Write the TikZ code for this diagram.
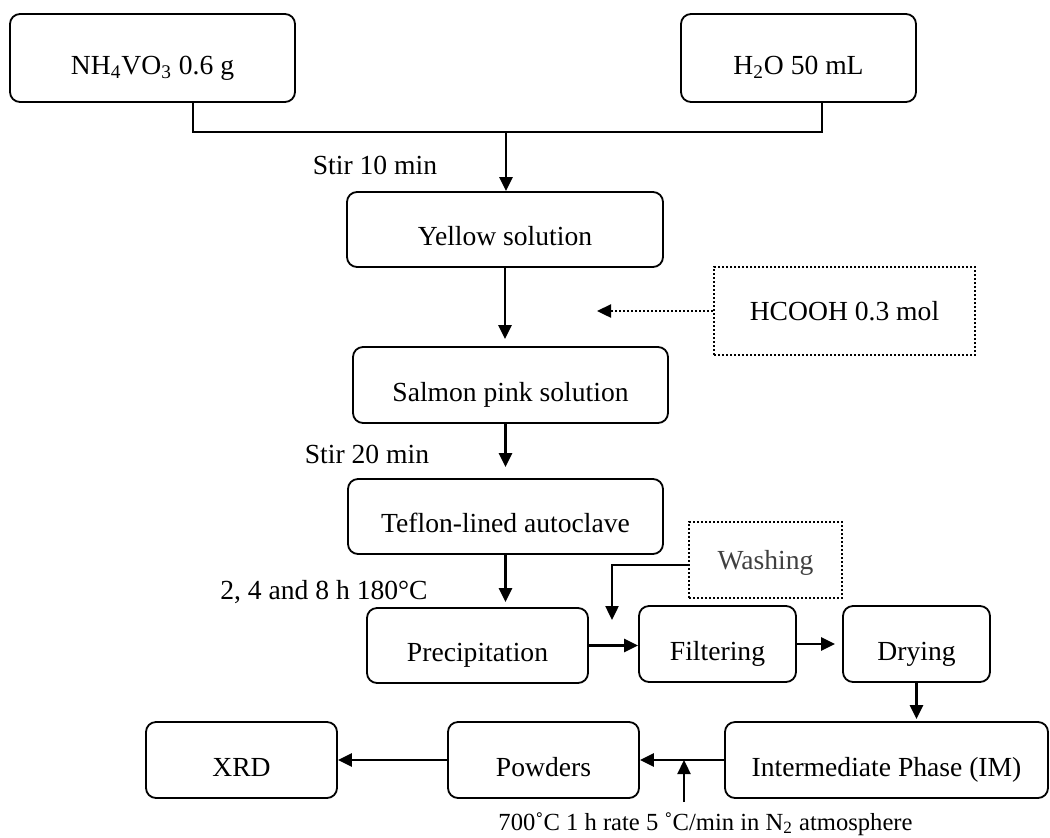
\documentclass[tikz,border=0pt]{standalone}
\usepackage{fontspec}
\setmainfont{Liberation Serif}
\usetikzlibrary{arrows.meta}
\tikzset{
  lbl/.style={font=\fontsize{13.8pt}{16pt}\selectfont, inner sep=0pt, text height=9pt, text depth=0pt},
  proc/.style={lbl, draw, line width=0.9pt, rounded corners=5pt, text height=16pt},
  extra/.style={lbl, draw, line width=0.9pt, dash pattern=on 1pt off 1pt},
  flow/.style={line width=1.2pt, -{Triangle[length=7pt,width=6.5pt]}},
  dflow/.style={flow, dash pattern=on 1pt off 1pt},
  link/.style={line width=1pt},
}
\begin{document}
\begin{tikzpicture}[x=0.5pt, y=-0.5pt]
\useasboundingbox (0,0) rectangle (1050,837);

% starting materials
\node[proc, minimum width=142.5pt, minimum height=44pt] (nh4) at (152.5,58) {NH\textsubscript{4}VO\textsubscript{3} 0.6 g};
\node[proc, minimum width=117.5pt, minimum height=44pt] (h2o) at (798.5,58) {H\textsubscript{2}O 50 mL};

% solution steps
\node[proc, minimum width=158pt, minimum height=37.5pt] (yellow) at (505,229.5) {Yellow solution};
\node[extra, minimum width=130.5pt, minimum height=44pt] (hcooh) at (844.5,311) {HCOOH 0.3 mol};
\node[proc, minimum width=157.5pt, minimum height=38pt] (salmon) at (510.5,385) {Salmon pink solution};
\node[proc, minimum width=157.5pt, minimum height=37.5pt] (teflon) at (505.5,516.5) {Teflon-lined autoclave};

% work-up
\node[proc, minimum width=110.5pt, minimum height=37.5pt] (precip) at (477.5,645.5) {Precipitation};
\node[extra, minimum width=76.5pt, minimum height=38pt, text=black!75] (washing) at (765.5,560) {Washing};
\node[proc, minimum width=78.5pt, minimum height=38pt] (filter) at (717.5,644) {Filtering};
\node[proc, minimum width=73.5pt, minimum height=38pt] (drying) at (916.5,644) {Drying};

% heat treatment and analysis
\node[proc, minimum width=161.5pt, minimum height=38pt] (im) at (886.5,760) {Intermediate Phase (IM)};
\node[proc, minimum width=95.5pt, minimum height=38pt] (powders) at (543.5,760) {Powders};
\node[proc, minimum width=95.5pt, minimum height=38pt] (xrd) at (241.5,760) {XRD};

% condition labels
\node[lbl] (stir1) at (375,165) {Stir 10 min};
\node[lbl] (stir2) at (367,454) {Stir 20 min};
\node[lbl] (hydro) at (324,590) {2, 4 and 8 h 180°C};
\node[lbl, font=\fontsize{12.3pt}{14pt}\selectfont, text height=8pt] (anneal) at (705.5,822)
  {700˚C 1 h rate 5 ˚C/min in N\textsubscript{2} atmosphere};

% mixing of the two starting materials
\coordinate (jl) at (193,132);
\coordinate (jr) at (822,132);
\coordinate (jm) at (506,132);
\draw[link] (nh4.south -| jl) -- (jl) -- (jr) -- (h2o.south -| jr);
\draw[flow] (jm) -- (jm |- yellow.north);

% main sequence
\draw[flow, shorten >=3.5pt] (yellow.south) -- (yellow.south |- salmon.north);
\coordinate (hin) at (597,311);
\draw[dflow] (hcooh.west) -- (hin);
\draw[flow, shorten >=5.5pt] (teflon.north |- salmon.south) -- (teflon.north);
\draw[flow, shorten >=2.5pt] (teflon.south) -- (teflon.south |- precip.north);

% washing feed
\coordinate (win) at (612,620);
\draw[flow] ([yshift=-2.5pt]washing.west) -| (win);

\draw[flow] (precip.east) -- (precip.east -| filter.west);
\draw[flow, shorten >=3.5pt] (filter.east) -- (drying.west);
\draw[flow, shorten >=1pt] (drying.south) -- (drying.south |- im.north);
\draw[flow] (im.west) -- (powders.east);
\draw[flow] (powders.west) -- (xrd.east);

% annealing input
\coordinate (heat) at (684,802);
\draw[flow] (heat) -- (heat |- im.west);
\end{tikzpicture}
\end{document}
